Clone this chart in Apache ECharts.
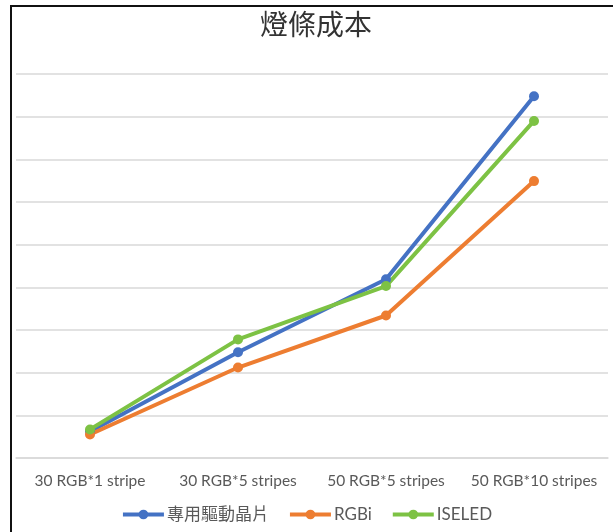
<!DOCTYPE html>
<html><head><meta charset="utf-8">
<script src="https://cdn.jsdelivr.net/npm/echarts@6/dist/echarts.min.js"></script>
<style>
html,body{margin:0;padding:0;background:#fff;}
#frame{position:absolute;left:10px;top:5px;width:620px;height:540px;border-left:2px solid #111;border-top:2px solid #111;box-sizing:border-box;}
#c{position:absolute;left:0;top:0;width:613px;height:532px;}
</style></head>
<body>
<div id="frame"></div>
<div id="c"></div>
<script>
const title = '燈條成本';
const categories = ['30 RGB*1 stripe', '30 RGB*5 stripes', '50 RGB*5 stripes', '50 RGB*10 stripes'];
const seriesNames = ['專用驅動晶片', 'RGBi', 'ISELED'];
const dedicatedChip = [0.62, 2.48, 4.19, 8.48];
const rgbi = [0.55, 2.12, 3.34, 6.49];
const iseled = [0.67, 2.78, 4.03, 7.9];
const colors = ['#4472C4', '#ED7D31', '#7DC244'];

const chart = echarts.init(document.getElementById('c'), null, {renderer: 'canvas'});
const mk = (name, data, color) => ({
  name, type: 'line', data,
  symbol: 'circle', symbolSize: 10,
  lineStyle: {width: 4, color},
  itemStyle: {color},
  emphasis: {disabled: true}
});
chart.setOption({
  animation: false,
  title: {text: title, left: 255, top: 5,
    textStyle: {fontFamily: 'Noto Sans CJK TC', fontWeight: 'normal', fontSize: 28, color: '#333'}},
  grid: {left: 16, right: 5, top: 74, bottom: 74, containLabel: false},
  xAxis: {type: 'category', data: categories, boundaryGap: true,
    axisLine: {lineStyle: {color: '#d9d9d9', width: 1.5}},
    axisTick: {show: false},
    axisLabel: {color: '#595959', fontSize: 15.5, fontFamily: 'Lato', margin: 15, interval: 0}},
  yAxis: {type: 'value', min: 0, max: 9, interval: 1,
    axisLabel: {show: false}, axisLine: {show: false}, axisTick: {show: false},
    splitLine: {lineStyle: {color: '#d9d9d9', width: 1.5}}},
  legend: {bottom: 4, left: 'center', itemWidth: 41, itemHeight: 12, itemGap: 19,
    lineStyle: {width: 4},
    textStyle: {color: '#595959', fontSize: 17, fontFamily: 'Lato, Noto Sans CJK TC', padding: [0, 0, 0, -2]},
    data: seriesNames},
  series: [
    mk(seriesNames[0], dedicatedChip, colors[0]),
    mk(seriesNames[1], rgbi, colors[1]),
    mk(seriesNames[2], iseled, colors[2])
  ]
});
</script>
</body></html>
